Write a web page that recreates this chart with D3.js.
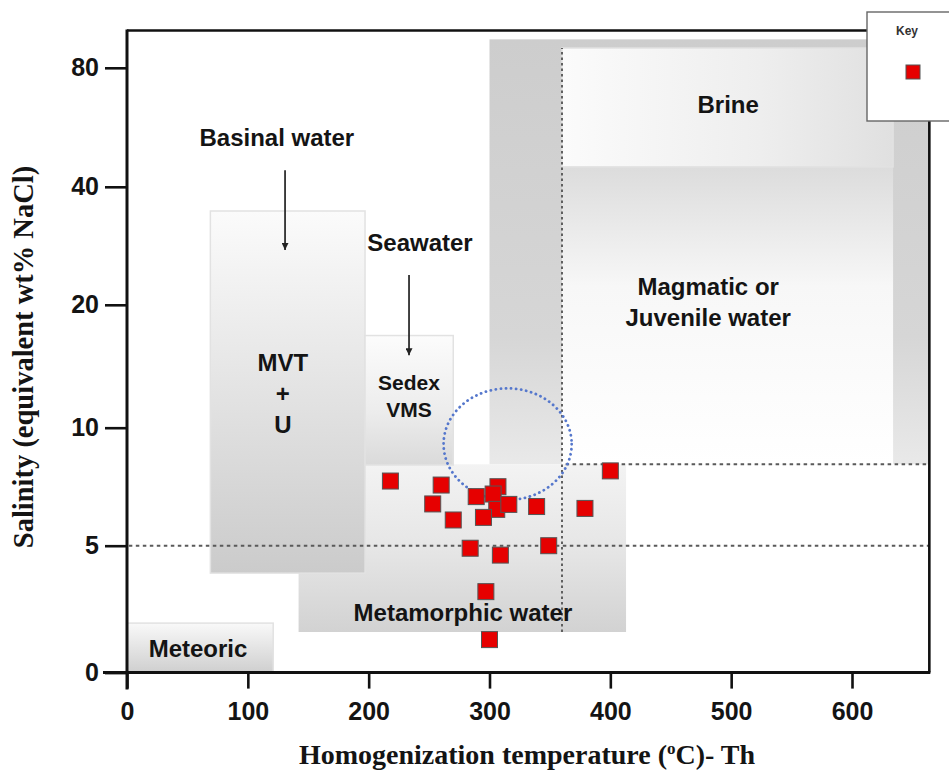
<!DOCTYPE html>
<html>
<head>
<meta charset="utf-8">
<script src="https://cdn.jsdelivr.net/npm/d3@7"></script>
<style>
  body { margin: 0; background: #fff; }
  svg { display: block; }
</style>
</head>
<body>
<script>
// Fluid inclusion measurements: homogenization temperature (°C) and salinity (wt% NaCl eq.)
const thValues       = [218, 260, 253, 270, 289, 307, 303, 306, 316, 295, 339, 379, 400, 284, 309, 349, 297, 300];
const salinityValues = [7.74, 7.57, 6.77, 6.09, 7.08, 7.5, 7.19, 6.54, 6.75, 6.2, 6.66, 6.58, 8.17, 4.9, 4.63, 5.0, 3.19, 1.3];

const xTicks = [0, 100, 200, 300, 400, 500, 600];
const yTicks = [0, 5, 10, 20, 40, 80];

// Fluid source fields (temperature range, salinity range)
const fieldIds   = ["magmaticOuter", "magmaticInner", "brine", "metamorphic", "mvt", "sedex", "meteoric"];
const fieldTh0   = [300, 360, 360, 142, 69, 197, 0];
const fieldTh1   = [664, 634, 634, 413, 197, 270, 121];
const fieldSal0  = [8.45, 8.45, 46.7, 1.6, 3.92, 8.42, 0];
const fieldSal1  = [99, 46.7, 93.2, 8.45, 35.9, 17.5, 1.95];

// Field labels
const labelLines = [["Basinal water"], ["Seawater"], ["MVT", "+", "U"], ["Sedex", "VMS"], ["Brine"], ["Magmatic or", "Juvenile water"], ["Metamorphic water"], ["Meteoric"]];
const labelTh    = [124, 242.5, 129, 233.4, 497.5, 481, 278, 58.8];
const labelSal   = [56.7, 30.5, 12.8, 12.58, 67.8, 20.5, 2.39, 0.97];
const labelSize  = [24, 24, 24, 21, 24, 24, 24, 24];

// Arrows from the basinal water and seawater labels
const arrowTh   = [130.8, 233.4];
const arrowFrom = [45.6, 25.05];
const arrowTo   = [29.3, 15.9];

// Dotted field boundaries
const hLineSal = [5, 8.45];
const hLineTh0 = [1.5, 363];
const hLineTh1 = [664, 664];
const vLineTh = 360, vLineSal0 = 1.6, vLineSal1 = 93.2;

// Dotted ellipse (temperature extent, salinity extent)
const ellipseTh = [262, 368];
const ellipseSal = [6.94, 13.2];

const W = 949, H = 771;
const svg = d3.select("body").append("svg").attr("width", W).attr("height", H);
const defs = svg.append("defs");

const x = d3.scaleLinear().domain([0, 600]).range([127, 852]);
const y = d3.scaleLinear().domain([0, 5, 10, 20, 40, 80, 160])
  .range([672.6, 545.7, 427.7, 304.8, 186.8, 67.8, -52]);

const xMax = 664, plotTop = 30.5;
const ink = "#141414";

function grad(id, stops, x2, y2) {
  const g = defs.append("linearGradient").attr("id", id)
    .attr("x1", 0).attr("y1", 0).attr("x2", x2).attr("y2", y2);
  stops.forEach(s => g.append("stop").attr("offset", s[0]).attr("stop-color", s[1]));
}
grad("g-magmaticOuter", [[0, "#cdcdcd"], [0.7, "#d6d6d6"], [1, "#e9e9e9"]], 0, 1);
grad("g-magmaticInner", [[0, "#dcdcdc"], [0.4, "#f7f7f7"], [1, "#ffffff"]], 0, 1);
grad("g-brine", [[0, "#fbfbfb"], [0.6, "#eeeeee"], [1, "#e0e0e0"]], 1, 0);
grad("g-metamorphic", [[0, "#f3f3f3"], [0.5, "#e6e6e6"], [1, "#d2d2d2"]], 0, 1);
grad("g-mvt", [[0, "#fbfbfb"], [0.4, "#e8e8e8"], [1, "#cbcbcb"]], 0, 1);
grad("g-sedex", [[0, "#fcfcfc"], [0.6, "#ececec"], [1, "#dadada"]], 0, 1);
grad("g-meteoric", [[0, "#f9f9f9"], [1, "#cfcfcf"]], 0, 1);

const fields = fieldIds.map((id, i) => ({ id, th0: fieldTh0[i], th1: fieldTh1[i], s0: fieldSal0[i], s1: fieldSal1[i] }));
svg.append("g").selectAll("rect").data(fields).join("rect")
  .attr("x", d => x(d.th0))
  .attr("y", d => y(d.s1))
  .attr("width", d => x(d.th1) - x(d.th0))
  .attr("height", d => y(d.s0) - y(d.s1))
  .attr("fill", d => `url(#g-${d.id})`)
  .attr("stroke", d => (d.id === "magmaticOuter" || d.id === "magmaticInner" || d.id === "metamorphic") ? "none" : "#e2e2e2")
  .attr("stroke-width", 1.5);

// dotted boundaries
const dash = svg.append("g").attr("stroke", "#5a5a5a").attr("stroke-width", 1.9).attr("stroke-dasharray", "3.5,3.5");
hLineSal.forEach((s, i) => {
  dash.append("line").attr("x1", x(hLineTh0[i])).attr("x2", x(hLineTh1[i])).attr("y1", y(s)).attr("y2", y(s));
});
dash.append("line").attr("x1", x(vLineTh)).attr("x2", x(vLineTh)).attr("y1", y(vLineSal0)).attr("y2", y(vLineSal1))
  .attr("stroke-dasharray", "2.5,3");

// dotted ellipse
svg.append("ellipse")
  .attr("cx", (x(ellipseTh[0]) + x(ellipseTh[1])) / 2)
  .attr("cy", (y(ellipseSal[0]) + y(ellipseSal[1])) / 2)
  .attr("rx", (x(ellipseTh[1]) - x(ellipseTh[0])) / 2)
  .attr("ry", (y(ellipseSal[0]) - y(ellipseSal[1])) / 2)
  .attr("fill", "none").attr("stroke", "#5577cc").attr("stroke-width", 2.8)
  .attr("stroke-dasharray", "0.1,5").attr("stroke-linecap", "round");

// arrows
defs.append("marker").attr("id", "arrowhead").attr("viewBox", "0 0 10 10")
  .attr("refX", 10).attr("refY", 5).attr("markerWidth", 7).attr("markerHeight", 7)
  .attr("markerUnits", "userSpaceOnUse").attr("orient", "auto")
  .append("path").attr("d", "M0,0 L10,5 L0,10 z").attr("fill", "#222");
arrowTh.forEach((t, i) => {
  svg.append("line").attr("x1", x(t)).attr("x2", x(t)).attr("y1", y(arrowFrom[i])).attr("y2", y(arrowTo[i]))
    .attr("stroke", "#222").attr("stroke-width", 1.7).attr("marker-end", "url(#arrowhead)");
});

// field labels
labelLines.forEach((lines, i) => {
  const size = labelSize[i];
  const lh = size * 1.28;
  const t = svg.append("text")
    .attr("x", x(labelTh[i])).attr("y", y(labelSal[i]))
    .attr("text-anchor", "middle")
    .attr("font-family", "Liberation Sans, Arial, sans-serif")
    .attr("font-weight", "bold").attr("font-size", size).attr("fill", ink);
  lines.forEach((ln, j) => {
    t.append("tspan").attr("x", x(labelTh[i]))
      .attr("dy", j === 0 ? (0.36 * size - (lines.length - 1) * lh / 2) : lh)
      .text(ln);
  });
});

// data points
const pts = thValues.map((t, i) => ({ t, s: salinityValues[i] }));
const ms = 16;
svg.append("g").selectAll("rect").data(pts).join("rect")
  .attr("x", d => x(d.t) - ms / 2).attr("y", d => y(d.s) - ms / 2)
  .attr("width", ms).attr("height", ms)
  .attr("fill", "#e60000").attr("stroke", "#555").attr("stroke-width", 1);

// axes
const xAxis = svg.append("g").attr("transform", `translate(0,${y(0)})`)
  .call(d3.axisBottom(x).tickValues(xTicks).tickSize(16).tickPadding(14).tickFormat(d3.format("d")));
const yAxis = svg.append("g").attr("transform", `translate(${x(0)},0)`)
  .call(d3.axisLeft(y).tickValues(yTicks).tickSize(22).tickPadding(6).tickFormat(d3.format("d")));
[xAxis, yAxis].forEach(a => {
  a.select(".domain").remove();
  a.selectAll(".tick line").attr("stroke", "#111").attr("stroke-width", 2.6);
  a.selectAll(".tick text").attr("font-family", "Liberation Sans, Arial, sans-serif")
    .attr("font-weight", "bold").attr("font-size", 25).attr("fill", ink);
});

// frame and axis lines
const frame = svg.append("g").attr("stroke", "#111").attr("fill", "none");
frame.append("line").attr("x1", x(0) - 24).attr("x2", x(xMax) + 1).attr("y1", y(0)).attr("y2", y(0)).attr("stroke-width", 3);
frame.append("line").attr("x1", x(0)).attr("x2", x(0)).attr("y1", plotTop - 1).attr("y2", y(0) + 17).attr("stroke-width", 3);
frame.append("line").attr("x1", x(0)).attr("x2", 870).attr("y1", plotTop).attr("y2", plotTop).attr("stroke-width", 2.6);
frame.append("line").attr("x1", x(xMax)).attr("x2", x(xMax)).attr("y1", 118).attr("y2", y(0)).attr("stroke-width", 2.6);

// axis titles
svg.append("text").attr("x", 527).attr("y", 764).attr("text-anchor", "middle")
  .attr("font-family", "Liberation Serif, Times New Roman, serif").attr("font-weight", "bold")
  .attr("font-size", 28).attr("fill", ink)
  .html('Homogenization temperature (<tspan font-size="17" dy="-10">o</tspan><tspan dy="10">C)- Th</tspan>');
svg.append("text").attr("transform", "translate(33,357) rotate(-90)")
  .attr("text-anchor", "middle")
  .attr("font-family", "Liberation Serif, Times New Roman, serif").attr("font-weight", "bold")
  .attr("font-size", 28.5).attr("fill", ink)
  .text("Salinity (equivalent wt% NaCl)");

// key
const key = svg.append("g");
key.append("rect").attr("x", 867).attr("y", 12).attr("width", 100).attr("height", 109)
  .attr("fill", "#fff").attr("stroke", "#666").attr("stroke-width", 1.4);
key.append("text").attr("x", 907).attr("y", 35).attr("text-anchor", "middle")
  .attr("font-family", "Liberation Sans Narrow, Arial Narrow, sans-serif").attr("font-weight", "bold")
  .attr("font-size", 12).attr("fill", "#333").text("Key");
key.append("rect").attr("x", 906).attr("y", 65).attr("width", 14).attr("height", 14)
  .attr("fill", "#e60000").attr("stroke", "#555").attr("stroke-width", 1);
</script>
</body>
</html>
